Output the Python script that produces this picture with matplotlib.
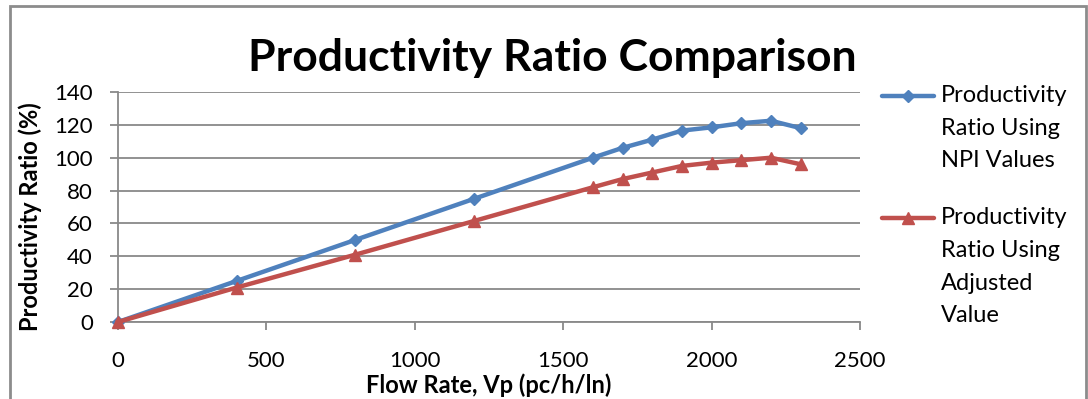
import matplotlib.pyplot as plt
from matplotlib.lines import Line2D
from matplotlib.patches import Rectangle

# data
flow_rate = [0, 400, 800, 1200, 1600, 1700, 1800, 1900, 2000, 2100, 2200, 2300]
ratio_npi = [0, 25, 50, 75, 100, 106, 111, 116.5, 118.5, 121, 122.5, 118]
ratio_adj = [0, 21, 41, 61.5, 82, 87, 91, 95, 97, 98.5, 100, 96]
x_ticks = [0, 500, 1000, 1500, 2000, 2500]
y_ticks = [0, 20, 40, 60, 80, 100, 120, 140]
labels_npi = ["Productivity", "Ratio Using", "NPI Values"]
labels_adj = ["Productivity", "Ratio Using", "Adjusted", "Value"]

BLUE = "#4F81BD"
RED = "#C0504D"
GRID = "#898989"

plt.rcParams['font.family'] = ['Lato', 'DejaVu Sans']

fig = plt.figure(figsize=(10.88, 3.99), dpi=100)
ax = fig.add_axes([118/1088, 1 - 322/399, (860-118)/1088, (322-92)/399])

ax.plot(flow_rate, ratio_npi, color=BLUE, lw=3.2, marker="D", ms=6.5, zorder=3, clip_on=False)
ax.plot(flow_rate, ratio_adj, color=RED, lw=3.2, marker="^", ms=8, zorder=4, clip_on=False)

ax.set_xlim(0, 2500)
ax.set_ylim(0, 140)
ax.set_xticks(x_ticks)
ax.set_yticks(y_ticks)
ax.yaxis.grid(True, color=GRID, lw=1.3)
ax.set_axisbelow(True)
for s in ["top", "right"]:
    ax.spines[s].set_visible(False)
for s in ["left", "bottom"]:
    ax.spines[s].set_color(GRID)
    ax.spines[s].set_linewidth(1.3)
ax.tick_params(axis="both", colors=GRID, width=1.3, length=6, labelcolor="black", labelsize=16)
ax.tick_params(axis="x", pad=15)
ax.tick_params(axis="y", pad=12)

ax.set_xlabel("Flow Rate, Vp (pc/h/ln)", fontsize=17, fontweight="bold")
ax.xaxis.set_label_coords(0.5, -0.222)
ax.set_ylabel("Productivity Ratio (%)", fontsize=17, fontweight="bold")
ax.yaxis.set_label_coords(-0.102, 0.457)

fig.text(552/1088, 1 - 58/399, "Productivity Ratio Comparison", fontsize=32,
         fontweight="bold", ha="center", va="center")

# manual legend, key aligned with first text line
def legend_entry(y0, color, marker, ms, lines):
    yf = 1 - y0/399
    fig.add_artist(Line2D([882/1088, 934/1088], [yf, yf], color=color, lw=3.2,
                          solid_capstyle="round"))
    fig.add_artist(Line2D([908/1088], [yf], color=color, marker=marker, ms=ms))
    for i, t in enumerate(lines):
        fig.text(941/1088, 1 - (y0 + i*32.5)/399, t, fontsize=17, va="center", ha="left")

legend_entry(96, BLUE, "D", 6.5, labels_npi)
legend_entry(218, RED, "^", 8, labels_adj)

fig.add_artist(Rectangle((10/1088, -0.1), 1076/1088, 1.1 - 6/399, transform=fig.transFigure,
                         fill=False, edgecolor="#8c8c8c", lw=2))

fig.savefig("out.png", dpi=100)
